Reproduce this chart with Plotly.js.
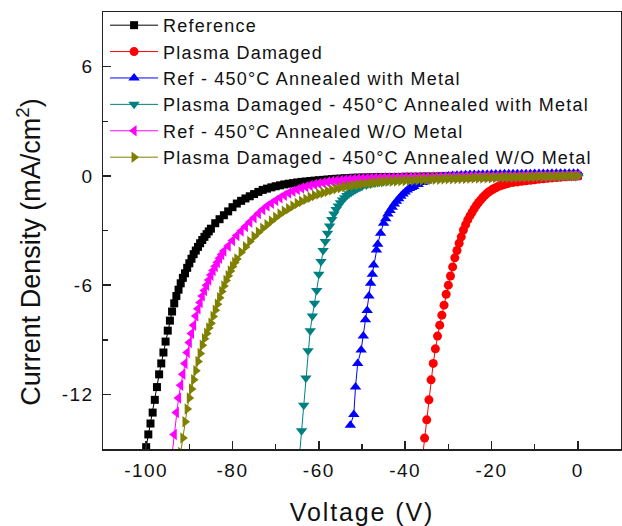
<!DOCTYPE html>
<html>
<head>
<meta charset="utf-8">
<script src="https://cdn.plot.ly/plotly-3.0.1.min.js"></script>
<style>
html,body{margin:0;padding:0;background:#fff;}
#chart{width:622px;height:526px;}
.legendtext{letter-spacing:1.2px;}
.xtick text,.ytick text{letter-spacing:1.5px;}
.xtitle{letter-spacing:1.9px;}
</style>
</head>
<body>
<div id="chart"></div>
<script>
// ---- Data (Voltage in V, Current Density in mA/cm^2) ----
var seriesNames = [
  "Reference",
  "Plasma Damaged",
  "Ref - 450\u00B0C Annealed with Metal",
  "Plasma Damaged - 450\u00B0C Annealed with Metal",
  "Ref - 450\u00B0C Annealed W/O Metal",
  "Plasma Damaged - 450\u00B0C Annealed W/O Metal"
];

var refV = [-100,-99.5,-99,-98.5,-98,-97.5,-97,-96.5,-96,-95.5,-95,-94.5,-94,-93.5,-93,-92.5,-92,-91.5,-91,-90.5,-90,-89.5,-89,-88.5,-88,-87.5,-87,-86.5,-86,-85.5,-85,
  -84,-83,-82,-81,-80,-79,-78,-77,-76,-75,-74,-73,-72,-71,-70,-69,-68,-67,-66,-65,-64,-63,-62,-61,-60,-59,-58,-57,-56,-55,-54,-53,-52,
  -51,-50,-49,-48,-47,-46,-45,-44,-43,-42,-41,-40,-39,-38,-37,-36,-35,-34,-33,-32,-31,-30,
  -29,-28,-27,-26,-25,-24,-23,-22,-21,-20,-19,-18,-17,-16,-15,-14,-13,-12,-11,-10,-9,-8,-7,-6,-5,-4,-3,-2,-1,0];
var refJ = [-14.9,-14.2,-13.6,-13.0,-12.3,-11.6,-10.9,-10.3,-9.7,-9.1,-8.5,-7.95,-7.45,-7.0,-6.6,-6.25,-5.9,-5.6,-5.35,-5.05,-4.8,-4.55,-4.3,-4.1,-3.9,-3.7,-3.52,-3.35,-3.2,-3.05,-2.9,
  -2.6,-2.38,-2.16,-1.95,-1.72,-1.52,-1.37,-1.24,-1.12,-1.0,-0.88,-0.77,-0.7,-0.63,-0.57,-0.52,-0.47,-0.43,-0.4,-0.36,-0.33,-0.31,-0.28,-0.26,-0.24,-0.22,-0.2,-0.18,-0.16,-0.15,-0.13,-0.12,-0.1,
  -0.1,-0.09,-0.09,-0.08,-0.08,-0.07,-0.07,-0.07,-0.06,-0.06,-0.06,-0.05,-0.05,-0.05,-0.05,-0.04,-0.04,-0.04,-0.04,-0.03,-0.03,-0.03,
  -0.03,-0.03,-0.02,-0.02,-0.02,-0.02,-0.02,-0.02,-0.01,-0.01,-0.01,-0.01,-0.01,-0.01,-0.01,0,0,0,0,0,0,0,0,0,0,0.01,0.01,0.01,0.01,0.01];

var pdV = [-36,-35.5,-35,-34.5,-34,-33.5,-33,-32.5,-32,-31.5,-31,-30.5,-30,-29.5,-29,-28.5,-28,-27.5,-27,-26.5,-26,-25.5,-25,-24.5,-24,-23.5,-23,-22.5,-22,-21.5,-21,-20.5,-20,-19.5,-19,-18.5,-18,-17.5,-17,-16.5,-16,
  -15,-14,-13,-12,-11,-10,-9,-8,-7,-6,-5,-4,-3,-2,-1,0];
var pdJ = [-15.5,-14.4,-13.4,-12.3,-11.2,-10.3,-9.5,-8.8,-8.2,-7.65,-7.1,-6.5,-6.0,-5.5,-5.0,-4.5,-4.1,-3.7,-3.35,-2.97,-2.68,-2.42,-2.2,-2.0,-1.8,-1.62,-1.46,-1.32,-1.18,-1.06,-0.95,-0.86,-0.78,-0.71,-0.65,-0.59,-0.54,-0.5,-0.46,-0.43,-0.4,
  -0.36,-0.33,-0.3,-0.27,-0.24,-0.21,-0.18,-0.16,-0.13,-0.11,-0.09,-0.07,-0.05,-0.03,-0.02,0.0];

var refMetalV = [-52.7,-51.9,-51.5,-51.0,-50.2,-49.7,-49.2,-48.8,-48.4,-48.0,-47.6,-47.3,-46.65,-46.35,-45.7,-45.0,
  -44.5,-44,-43.5,-43,-42.5,-42,-41.5,-41,-40.5,-40,-39.5,-39,-38.5,-38,
  -37,-36,-35,-34,-33,-32,-31,-30,-29,-28,-27,-26,-25,-24,-23,-22,-21,-20,-19,-18,-17,-16,-15,-14,-13,-12,-11,-10,-9,-8,-7,-6,-5,-4,-3,-2,-1,0];
var refMetalJ = [-13.7,-13.1,-11.6,-10.3,-9.56,-8.8,-7.9,-7.4,-6.6,-5.9,-5.4,-4.9,-4.07,-3.75,-3.15,-2.6,
  -2.35,-2.1,-1.9,-1.72,-1.55,-1.4,-1.25,-1.12,-1.0,-0.88,-0.77,-0.7,-0.64,-0.58,
  -0.47,-0.37,-0.28,-0.2,-0.13,-0.08,-0.04,0.0,0.02,0.04,0.05,0.06,0.07,0.08,0.08,0.09,0.09,0.1,0.1,0.1,0.11,0.11,0.11,0.12,0.12,0.12,0.12,0.13,0.13,0.13,0.13,0.14,0.14,0.14,0.14,0.15,0.15,0.15];

var pdMetalV = [-64.5,-64,-63.5,-63,-62.5,-62,-61.5,-61,-60.5,-60,-59.5,-59,-58.5,-58,-57.5,-57,-56.5,-56,-55.5,-55,-54.5,-54,-53.5,-53,-52.5,-52,-51.5,-51,-50.5,-50,
  -49,-48,-47,-46,-45,-44,-43,-42,-41,-40,-39,-38,-37,-36,-35,-34,-33,-32,-31,-30,-29,-28,-27,-26,-25,-24,-23,-22,-21,-20,-19,-18,-17,-16,-15,-14,-13,-12,-11,-10,-9,-8,-7,-6,-5,-4,-3,-2,-1,0];
var pdMetalJ = [-15.4,-14.0,-12.6,-11.1,-9.6,-8.5,-7.7,-7.0,-6.3,-5.4,-4.7,-4.1,-3.6,-3.15,-2.75,-2.4,-2.1,-1.85,-1.65,-1.48,-1.33,-1.2,-1.08,-0.98,-0.9,-0.82,-0.75,-0.68,-0.62,-0.57,
  -0.5,-0.44,-0.39,-0.35,-0.31,-0.28,-0.25,-0.22,-0.2,-0.18,-0.16,-0.15,-0.14,-0.13,-0.12,-0.11,-0.1,-0.1,-0.09,-0.09,-0.08,-0.08,-0.07,-0.07,-0.06,-0.06,-0.05,-0.05,-0.05,-0.04,-0.04,-0.04,-0.03,-0.03,-0.03,-0.02,-0.02,-0.02,-0.01,-0.01,-0.01,0,0,0,0,0.01,0.01,0.01,0.02,0.02];

var refNoMetalV = [-94,-93.5,-93,-92.5,-92,-91.5,-91,-90.5,-90,-89.5,-89,-88.5,-88,-87.5,-87,-86.5,-86,-85.5,-85,-84.5,-84,-83.5,-83,-82.5,-82,
  -81,-80,-79,-78,-77,-76,-75,-74,-73,-72,-71,-70,-69,-68,-67,-66,-65,-64,-63,-62,-61,-60,-59,-58,-57,-56,-55,-54,-53,-52,-51,-50,-49,-48,
  -47,-46,-45,-44,-43,-42,-41,-40,-39,-38,-37,-36,-35,-34,-33,-32,-31,-30,-29,-28,-27,-26,-25,-24,-23,-22,-21,-20,-19,-18,-17,-16,-15,-14,-13,-12,-11,-10,-9,-8,-7,-6,-5,-4,-3,-2,-1,0];
var refNoMetalJ = [-15.3,-14.2,-13.0,-12.2,-11.5,-10.9,-10.3,-9.7,-9.15,-8.65,-8.2,-7.7,-7.3,-6.95,-6.6,-6.3,-6.0,-5.72,-5.45,-5.2,-4.97,-4.75,-4.52,-4.32,-4.13,
  -3.85,-3.55,-3.28,-3.03,-2.78,-2.54,-2.3,-2.07,-1.85,-1.66,-1.5,-1.35,-1.2,-1.06,-0.94,-0.84,-0.75,-0.67,-0.6,-0.53,-0.47,-0.42,-0.38,-0.34,-0.3,-0.27,-0.25,-0.22,-0.2,-0.18,-0.16,-0.15,-0.14,-0.13,
  -0.12,-0.12,-0.11,-0.11,-0.1,-0.1,-0.09,-0.09,-0.09,-0.08,-0.08,-0.08,-0.07,-0.07,-0.07,-0.06,-0.06,-0.06,-0.05,-0.05,-0.05,-0.05,-0.04,-0.04,-0.04,-0.04,-0.03,-0.03,-0.03,-0.03,-0.02,-0.02,-0.02,-0.02,-0.01,-0.01,-0.01,-0.01,0,0,0,0,0.01,0.01,0.01,0.02,0.02,0.03];

var pdNoMetalV = [-92,-91.5,-91,-90.5,-90,-89.5,-89,-88.5,-88,-87.5,-87,-86.5,-86,-85.5,-85,-84.5,-84,-83.5,-83,-82.5,-82,-81.5,-81,-80.5,-80,-79.5,-79,
  -78,-77,-76,-75,-74,-73,-72,-71,-70,-69,-68,-67,-66,-65,-64,-63,-62,-61,-60,-59,-58,-57,-56,-55,-54,-53,-52,-51,-50,-49,-48,-47,-46,-45,-44,
  -43,-42,-41,-40,-39,-38,-37,-36,-35,-34,-33,-32,-31,-30,-29,-28,-27,-26,-25,-24,-23,-22,-21,-20,-19,-18,-17,-16,-15,-14,-13,-12,-11,-10,-9,-8,-7,-6,-5,-4,-3,-2,-1,0];
var pdNoMetalJ = [-15.2,-14.4,-13.5,-12.8,-12.2,-11.7,-11.2,-10.7,-10.2,-9.75,-9.3,-8.95,-8.65,-8.35,-8.1,-7.72,-7.38,-7.05,-6.7,-6.35,-6.05,-5.75,-5.48,-5.22,-4.98,-4.76,-4.56,
  -4.2,-3.9,-3.6,-3.33,-3.1,-2.88,-2.68,-2.48,-2.28,-2.1,-1.94,-1.8,-1.66,-1.52,-1.4,-1.28,-1.18,-1.08,-1.0,-0.92,-0.84,-0.77,-0.7,-0.65,-0.6,-0.56,-0.52,-0.48,-0.45,-0.42,-0.39,-0.36,-0.34,-0.32,-0.3,
  -0.29,-0.28,-0.27,-0.26,-0.25,-0.24,-0.23,-0.22,-0.21,-0.2,-0.19,-0.18,-0.17,-0.16,-0.16,-0.15,-0.14,-0.14,-0.13,-0.12,-0.12,-0.11,-0.1,-0.1,-0.09,-0.09,-0.08,-0.08,-0.07,-0.07,-0.06,-0.06,-0.05,-0.05,-0.04,-0.04,-0.03,-0.03,-0.02,-0.02,-0.01,-0.01,0,0];

var xTickVals = [-100,-80,-60,-40,-20,0];
var xTickText = ["-100","-80","-60","-40","-20","0"];
var yTickVals = [-12,-6,0,6];
var yTickText = ["-12","-6","0","6"];
var xTitle = "Voltage (V)";
var yTitle = "Current Density (mA/cm<sup>2</sup>)";

// ---- Styles ----
var colors = ["#000000","#ff0000","#0000ff","#008080","#ff00ff","#808000"];
var symbols = ["square","circle","triangle-up","triangle-down","triangle-left","triangle-right"];
var sizes = [8,9,10,10,10,10];
var xs = [refV, pdV, refMetalV, pdMetalV, refNoMetalV, pdNoMetalV];
var ys = [refJ, pdJ, refMetalJ, pdMetalJ, refNoMetalJ, pdNoMetalJ];

var traces = seriesNames.map(function(n, i){
  return {
    x: xs[i], y: ys[i], name: n, type: "scatter", mode: "lines+markers",
    line: {color: colors[i], width: 1},
    marker: {color: colors[i], symbol: symbols[i], size: sizes[i], line: {width: 0}},
    cliponaxis: true
  };
});

var font = "Liberation Sans, Arial, sans-serif";
var axisCommon = {
  ticks: "inside", ticklen: 8, tickwidth: 1.5, tickcolor: "#222",
  showline: true, linewidth: 1.5, linecolor: "#222", mirror: true,
  showgrid: false, zeroline: false, automargin: false,
  tickfont: {size: 19, color: "#111"}
};
var layout = {
  width: 622, height: 526,
  margin: {l: 103, r: 1, t: 12, b: 77},
  paper_bgcolor: "#fff", plot_bgcolor: "#fff",
  font: {family: font, color: "#111", size: 18},
  showlegend: true,
  legend: {x: 0.004, y: 1.0115, xanchor: "left", yanchor: "top", bgcolor: "rgba(0,0,0,0)",
           font: {family: font, size: 18, color: "#111"}, itemwidth: 48, tracegroupgap: 0},
  xaxis: Object.assign({}, axisCommon, {
    range: [-110, 10], tickmode: "array", tickvals: xTickVals, ticktext: xTickText, ticklabelstandoff: 4,
    minor: {ticks: "inside", dtick: 10, tick0: 0, ticklen: 5, tickwidth: 1.5, tickcolor: "#222"},
    title: {text: xTitle, font: {size: 25, color: "#111"}, standoff: 24}
  }),
  yaxis: Object.assign({}, axisCommon, {
    range: [-15, 9], tickmode: "array", tickvals: yTickVals, ticktext: yTickText, ticklabelstandoff: 4,
    minor: {ticks: "inside", dtick: 3, tick0: 0, ticklen: 5, tickwidth: 1.5, tickcolor: "#222"}
  }),
  annotations: [{
    text: yTitle, textangle: -90, showarrow: false,
    xref: "paper", yref: "paper", x: -0.143, y: 0.451, xanchor: "center", yanchor: "middle",
    font: {family: font, size: 27, color: "#111"}
  }]
};

Plotly.newPlot("chart", traces, layout, {displayModeBar: false, staticPlot: true});
</script>
</body>
</html>
